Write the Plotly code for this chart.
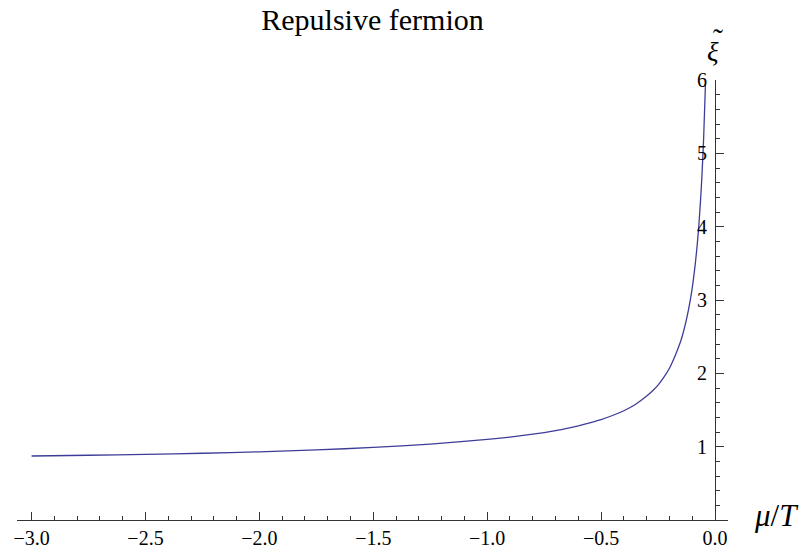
import plotly.graph_objects as go

# Data
mu_T = [-3.0, -2.75, -2.5, -2.25, -2.0, -1.75, -1.5, -1.25, -1.0, -0.9, -0.8, -0.7,
        -0.65, -0.6, -0.55, -0.5, -0.45, -0.4, -0.35, -0.3, -0.275, -0.25, -0.225,
        -0.2, -0.175, -0.16, -0.15, -0.14, -0.125, -0.108, -0.097, -0.086,
        -0.078, -0.071, -0.064, -0.057, -0.05, -0.042]
xi_tilde = [0.873, 0.883, 0.895, 0.910, 0.930, 0.955, 0.990, 1.035, 1.10, 1.13,
            1.17, 1.22, 1.25, 1.285, 1.325, 1.37, 1.425, 1.49, 1.575, 1.69, 1.76,
            1.84, 1.945, 2.07, 2.24, 2.36, 2.445, 2.55, 2.74, 3.01, 3.23, 3.51,
            3.76, 4.02, 4.335, 4.72, 5.20, 5.94]

x_ticks = [-3.0, -2.5, -2.0, -1.5, -1.0, -0.5, 0.0]
y_ticks = [1, 2, 3, 4, 5, 6]

XMIN, XMAX = -3.064, 0.057
YMIN, YMAX = 0.0, 6.0

SERIF = "Times New Roman, Liberation Serif, serif"

fig = go.Figure()
fig.add_trace(go.Scatter(x=mu_T, y=xi_tilde, mode="lines",
                         line=dict(color="#3d3d99", width=1.3, shape="spline", smoothing=0.6),
                         hoverinfo="skip", showlegend=False))

axis_col = "#333333"
L, R, T, B = 17, 74, 80, 30
W, H = 802, 550
pw, ph = W - L - R, H - T - B

fig.update_layout(
    width=W, height=H,
    margin=dict(l=L, r=R, t=T, b=B, autoexpand=False),
    paper_bgcolor="white", plot_bgcolor="white",
    font=dict(family=SERIF, size=18, color="black"),
    title=dict(text="Repulsive fermion", x=372.5 / W, xanchor="center", xref="container",
               y=1 - 9 / H, yanchor="top",
               font=dict(family=SERIF, size=30, color="black")),
    xaxis=dict(range=[XMIN, XMAX], showgrid=False, zeroline=False, automargin=False,
               showline=True, linecolor=axis_col, linewidth=1,
               tickvals=x_ticks, tickformat=".1f",
               ticks="inside", ticklen=8, tickcolor=axis_col, tickwidth=1,
               minor=dict(dtick=0.1, tick0=0, ticks="inside", ticklen=4,
                          tickcolor=axis_col, tickwidth=1, showgrid=False),
               tickfont=dict(family=SERIF, size=20)),
    yaxis=dict(range=[YMIN, YMAX], showgrid=False, zeroline=False, automargin=False,
               anchor="free", position=(0 - XMIN) / (XMAX - XMIN), side="left",
               showline=True, linecolor=axis_col, linewidth=1,
               tickvals=y_ticks,
               ticks="inside", ticklen=8, tickcolor=axis_col, tickwidth=1,
               minor=dict(dtick=0.2, tick0=0, ticks="inside", ticklen=4,
                          tickcolor=axis_col, tickwidth=1, showgrid=False),
               ticklabelstandoff=4,
               tickfont=dict(family=SERIF, size=20)),
)

def px_to_paper(px, py):
    return (px - L) / pw, (H - B - py) / ph

mx, my = px_to_paper(777, 515)
fig.add_annotation(text="<i>μ</i>/<i>T</i>", xref="paper", yref="paper",
                   x=mx, y=my, xanchor="center", yanchor="middle", showarrow=False,
                   font=dict(family=SERIF, size=31))
gx, gy = px_to_paper(713, 52)
fig.add_annotation(text="<i>ξ</i>", xref="paper", yref="paper",
                   x=gx, y=gy, xanchor="center", yanchor="middle", showarrow=False,
                   font=dict(family=SERIF, size=27))
tx, ty = px_to_paper(718, 38)
fig.add_annotation(text="˜", xref="paper", yref="paper",
                   x=tx, y=ty, xanchor="center", yanchor="middle", showarrow=False,
                   font=dict(family=SERIF, size=30))

fig.write_html("out.html", config={"displayModeBar": False},
               post_script="document.body.style.margin='0';document.body.style.overflow='hidden';")
